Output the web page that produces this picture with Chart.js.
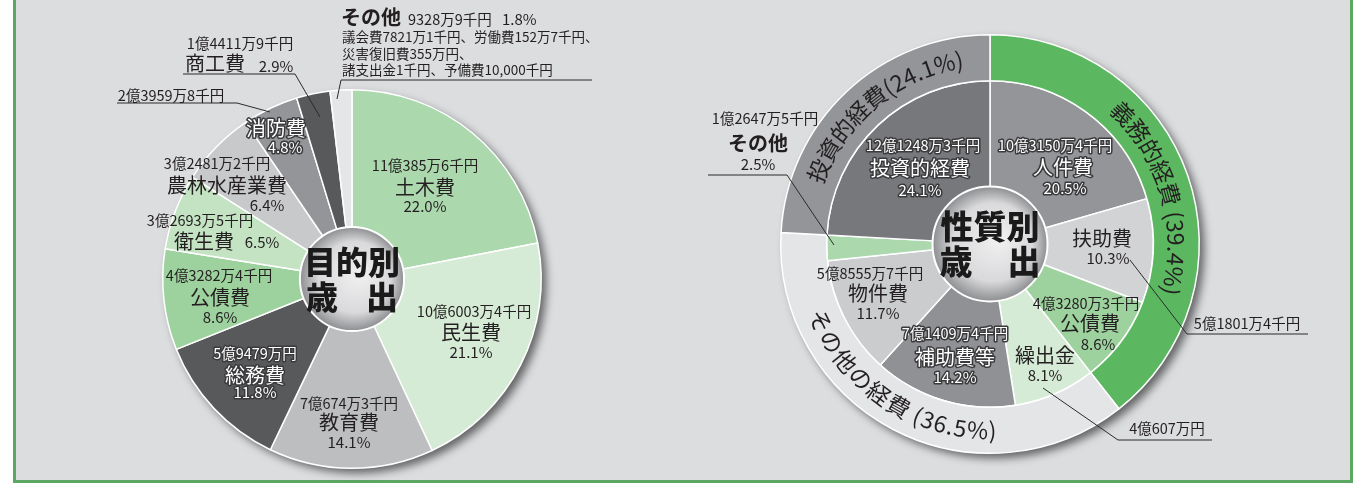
<!DOCTYPE html>
<html>
<head>
<meta charset="utf-8">
<script src="https://cdn.jsdelivr.net/npm/chart.js@4.4.0/dist/chart.umd.min.js"></script>
<style>
  body { margin: 0; background: #fff; width: 1367px; height: 485px; overflow: hidden; position: relative; }
  #frame { position: absolute; left: 13px; top: -10px; width: 1340px; height: 493px; box-sizing: border-box;
           border: 3px solid #5ca763; border-top: none; background: #dcdddf; }
  canvas { position: absolute; top: 0; }
  #purpose { left: 0; }
  #nature { left: 680px; }
</style>
</head>
<body>
<div id="frame"></div>
<canvas id="purpose" width="680" height="485"></canvas>
<canvas id="nature" width="687" height="485"></canvas>
<script>
// 目的別歳出 (千円)
const purposeLabels = ['土木費', '民生費', '教育費', '総務費', '公債費', '衛生費', '農林水産業費', '消防費', '商工費', 'その他'];
const purposeValues = [1103856, 1060034, 706743, 594790, 432824, 326935, 324812, 239598, 144119, 93289];
const purposeAmounts = ['11億385万6千円', '10億6003万4千円', '7億674万3千円', '5億9479万円', '4億3282万4千円',
                        '3億2693万5千円', '3億2481万2千円', '2億3959万8千円', '1億4411万9千円', '9328万9千円'];
const purposePercents = ['22.0%', '21.1%', '14.1%', '11.8%', '8.6%', '6.5%', '6.4%', '4.8%', '2.9%', '1.8%'];
const otherBreakdown = ['議会費7821万1千円、労働費152万7千円、', '災害復旧費355万円、', '諸支出金1千円、予備費10,000千円'];

// 性質別歳出 (千円)
const natureGroups = ['義務的経費', 'その他の経費', '投資的経費'];
const natureGroupValues = [1982321, 1832196, 1212483];
const natureGroupPercents = ['39.4%', '36.5%', '24.1%'];
const natureLabels = ['人件費', '扶助費', '公債費', '繰出金', '補助費等', '物件費', 'その他', '投資的経費'];
const natureValues = [1031504, 518014, 432803, 406070, 714094, 585557, 126475, 1212483];
const natureAmounts = ['10億3150万4千円', '5億1801万4千円', '4億3280万3千円', '4億607万円',
                       '7億1409万4千円', '5億8555万7千円', '1億2647万5千円', '12億1248万3千円'];
const naturePercents = ['20.5%', '10.3%', '8.6%', '8.1%', '14.2%', '11.7%', '2.5%', '24.1%'];

const FONT = '"Noto Sans CJK JP", "Noto Sans CJK SC", sans-serif';
const INK = '#231f20';

// slice colours
const purposeColors = ['#acd8ae', '#d5ebd5', '#bdbec0', '#58595b', '#9dd19e', '#c3e3c3', '#c8c9cb', '#949598', '#58595b', '#e5e6e7'];
const groupColors = ['#5cb860', '#e4e5e7', '#939598'];
const natureColors = ['#939598', '#d2d3d5', '#9dd19e', '#d5ebd5', '#8f9194', '#cbccce', '#acd8ae', '#77787b'];

// label layout: offsets from the pie centre
const purposeLayout = [
  { amt: [73, -114], name: [73, -92], pct: [73, -73] },
  { amt: [122, 32], name: [119, 53], pct: [119, 73] },
  { amt: [-3, 124], name: [-3, 143], pct: [-3, 163] },
  { amt: [-97, 74], name: [-97, 96], pct: [-97, 113], white: true },
  { amt: [-133, -4], name: [-132, 18], pct: [-132, 38] },
  { amt: [-152, -59], name: [-148, -38], pct: [-90, -37] },
  { amt: [-135, -116], name: [-125, -94], pct: [-85, -74] },
  { amt: [-181, -184], name: [-76, -151], pct: [-67, -132], white: true,
    line: [[-235, -176], [-115, -176], [-82, -167]] },
  { amt: [-112, -236], name: [-137, -216], pct: [-76, -213],
    line: [[-169, -205], [-57, -205], [-32, -162]] }
];
const natureLayout = [
  { amt: [65, -99], name: [73, -77], pct: [75, -56], white: true },
  { amt: [257, 79], name: [112, -6], pct: [118, 14], line: [[318, 90], [197, 90], [140, 16]] },
  { amt: [96, 59], name: [100, 79], pct: [108, 100] },
  { amt: [177, 184], name: [55, 111], pct: [55, 131], line: [[222, 196], [128, 196], [53, 144]] },
  { amt: [-35, 89], name: [-35, 113], pct: [-35, 133], white: true },
  { amt: [-120, 29], name: [-112, 49], pct: [-112, 69] },
  { amt: [-225, -126], name: [-232, -101], pct: [-232, -80], bold: true, line: [[-282, -69], [-203, -69], [-156, 1]] },
  { amt: [-67, -99], name: [-70, -76], pct: [-70, -54], white: true }
];

function text(ctx, s, x, y, size, o = {}) {
  ctx.save();
  ctx.font = `${o.bold ? 'bold ' : ''}${size}px ${FONT}`;
  ctx.textAlign = o.align || 'center';
  ctx.textBaseline = 'middle';
  if (o.white) {
    ctx.lineJoin = 'round';
    ctx.lineWidth = 3;
    ctx.strokeStyle = '#3a3a3c';
    ctx.strokeText(s, x, y);
    ctx.fillStyle = '#fff';
  } else {
    ctx.fillStyle = INK;
  }
  ctx.fillText(s, x, y);
  ctx.restore();
}

function polyline(ctx, cx, cy, pts) {
  ctx.save();
  ctx.strokeStyle = '#2b2b2b';
  ctx.lineWidth = 1;
  ctx.beginPath();
  pts.forEach(([dx, dy], i) => i ? ctx.lineTo(cx + dx, cy + dy) : ctx.moveTo(cx + dx, cy + dy));
  ctx.stroke();
  ctx.restore();
}

// text set along a ring; inward = read counter-clockwise with tops to the centre
function arcText(ctx, s, cx, cy, r, mid, size, spacing, inward) {
  ctx.save();
  ctx.font = `${size}px ${FONT}`;
  ctx.textAlign = 'center';
  ctx.textBaseline = 'middle';
  ctx.fillStyle = INK;
  const chars = [...s];
  const ws = chars.map(c => ctx.measureText(c).width);
  const total = ws.reduce((a, b) => a + b, 0) + spacing * (chars.length - 1);
  const dir = inward ? -1 : 1;
  let a = mid - dir * total / 2 / r;
  chars.forEach((c, i) => {
    const ac = a + dir * ws[i] / 2 / r;
    ctx.save();
    ctx.translate(cx + r * Math.cos(ac), cy + r * Math.sin(ac));
    ctx.rotate(inward ? ac - Math.PI / 2 : ac + Math.PI / 2);
    ctx.fillText(c, 0, 0);
    ctx.restore();
    a += dir * (ws[i] + spacing) / r;
  });
  ctx.restore();
}

const pieShadow = {
  id: 'pieShadow',
  beforeDatasetsDraw(chart) {
    const arc = chart.getDatasetMeta(0).data[0];
    const ctx = chart.ctx;
    ctx.save();
    ctx.shadowColor = 'rgba(0,0,0,0.55)';
    ctx.shadowBlur = 9;
    ctx.shadowOffsetX = 5;
    ctx.shadowOffsetY = 5;
    ctx.fillStyle = '#999';
    ctx.beginPath();
    ctx.arc(arc.x, arc.y, arc.outerRadius, 0, Math.PI * 2);
    ctx.fill();
    ctx.restore();
  }
};

function centerBall(title, size, rowGap, spread) {
  return {
    id: 'centerBall',
    afterDatasetsDraw(chart) {
      const meta = chart.getDatasetMeta(chart.data.datasets.length - 1);
      const { x, y, innerRadius } = meta.data[0];
      const r = innerRadius + 1;
      const ctx = chart.ctx;
      ctx.save();
      const g = ctx.createRadialGradient(x + r * 0.15, y - r * 0.1, r * 0.1, x, y, r);
      g.addColorStop(0, '#eeeeef');
      g.addColorStop(0.65, '#d9d9db');
      g.addColorStop(1, '#8d8e91');
      ctx.fillStyle = g;
      ctx.beginPath();
      ctx.arc(x, y, r, 0, Math.PI * 2);
      ctx.fill();
      ctx.strokeStyle = '#fff';
      ctx.lineWidth = 2;
      ctx.stroke();
      ctx.fillStyle = '#1a1a1a';
      ctx.font = `900 ${size}px ${FONT}`;
      ctx.textAlign = 'center';
      ctx.textBaseline = 'middle';
      ctx.fillText(title, x, y - rowGap[0]);
      ctx.fillText('歳', x - spread, y + rowGap[1]);
      ctx.fillText('出', x + spread, y + rowGap[1]);
      ctx.restore();
    }
  };
}

function drawLayout(ctx, cx, cy, layout, names, amounts, percents) {
  layout.forEach((l, i) => {
    if (l.line) polyline(ctx, cx, cy, l.line);
    text(ctx, amounts[i], cx + l.amt[0], cy + l.amt[1], 14.5, { white: l.white && !l.line });
    text(ctx, names[i], cx + l.name[0], cy + l.name[1], 20, { white: l.white, bold: l.bold });
    text(ctx, percents[i], cx + l.pct[0], cy + l.pct[1], 15, { white: l.white });
  });
}

const purposeText = {
  id: 'purposeText',
  afterDraw(chart) {
    const { x: cx, y: cy } = chart.getDatasetMeta(0).data[0];
    const ctx = chart.ctx;
    drawLayout(ctx, cx, cy, purposeLayout, purposeLabels, purposeAmounts, purposePercents);
    // その他 with its breakdown
    const k = purposeLabels.length - 1;
    polyline(ctx, cx, cy, [[240, -199], [-11, -199], [-15, -180]]);
    text(ctx, purposeLabels[k], cx - 11, cy - 262, 20, { align: 'left', bold: true });
    text(ctx, purposeAmounts[k], cx + 56, cy - 260, 14.5, { align: 'left' });
    text(ctx, purposePercents[k], cx + 150, cy - 260, 15, { align: 'left' });
    otherBreakdown.forEach((s, i) => text(ctx, s, cx - 10, cy - 242 + i * 16.5, 13.5, { align: 'left' }));
  }
};

const natureText = {
  id: 'natureText',
  afterDraw(chart) {
    const outer = chart.getDatasetMeta(0).data;
    const { x: cx, y: cy } = outer[0];
    const ctx = chart.ctx;
    drawLayout(ctx, cx, cy, natureLayout, natureLabels, natureAmounts, naturePercents);
    const shift = [3, 6, 4];
    const gap = [' ', ' ', ''];
    outer.forEach((a, i) => {
      const r = (a.innerRadius + a.outerRadius) / 2;
      const mid = (a.startAngle + a.endAngle) / 2 + shift[i] * Math.PI / 180;
      const s = `${natureGroups[i]}${gap[i]}(${natureGroupPercents[i]})`;
      arcText(ctx, s, cx, cy, r, mid, 23, 0.5, i === 1);
    });
  }
};

const baseOptions = (padding, cutout) => ({
  responsive: false,
  animation: false,
  cutout,
  layout: { padding },
  plugins: { legend: { display: false }, tooltip: { enabled: false } }
});

new Chart(document.getElementById('purpose'), {
  type: 'doughnut',
  data: {
    labels: purposeLabels,
    datasets: [{ data: purposeValues, backgroundColor: purposeColors, borderColor: '#fff', borderWidth: 1.5 }]
  },
  options: baseOptions({ left: 162, right: 138, top: 89, bottom: 16 }, '27%'),
  plugins: [pieShadow, centerBall('目的別', 32, [17, 18], 30), purposeText]
});

new Chart(document.getElementById('nature'), {
  type: 'doughnut',
  data: {
    labels: natureLabels,
    datasets: [
      { data: natureGroupValues, backgroundColor: groupColors, borderColor: '#fff', borderWidth: 1.5, weight: 46 },
      { data: natureValues, backgroundColor: natureColors, borderColor: '#fff', borderWidth: 1.5, weight: 107 }
    ]
  },
  options: baseOptions({ left: 100, right: 167, top: 34, bottom: 31 }, '27%'),
  plugins: [pieShadow, centerBall('性質別', 33, [18, 17], 34), natureText]
});
</script>
</body>
</html>
